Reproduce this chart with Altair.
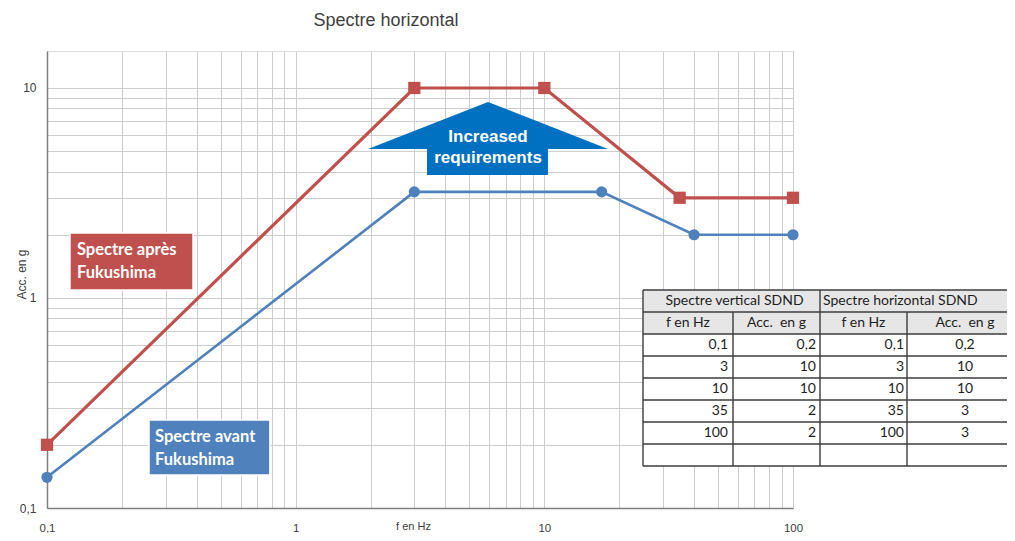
import altair as alt
import pandas as pd

# ---------------- data ----------------
f_apres = [0.1, 3, 10, 35, 100]
acc_apres = [0.2, 10, 10, 3, 3]
f_avant = [0.1, 3, 17, 40, 100]
acc_avant = [0.14, 3.2, 3.2, 2, 2]

x_ticks = [0.1, 0.2, 0.3, 0.4, 0.5, 0.6, 0.7, 0.8, 0.9,
           1, 2, 3, 4, 5, 6, 7, 8, 9,
           10, 20, 30, 40, 50, 60, 70, 80, 90, 100]
y_ticks = [0.1, 0.2, 0.3, 0.4, 0.5, 0.6, 0.7, 0.8, 0.9,
           1, 2, 3, 4, 5, 6, 7, 8, 9, 10]
x_labels = [0.1, 1, 10, 100]
y_labels = [0.1, 1, 10]

tab_f_vert = [0.1, 3, 10, 35, 100]
tab_acc_vert = [0.2, 10, 10, 2, 2]
tab_f_hor = [0.1, 3, 10, 35, 100]
tab_acc_hor = [0.2, 10, 10, 3, 3]
tab_group_headers = ["Spectre vertical SDND", "Spectre horizontal SDND"]
tab_col_headers = ["f en Hz", "Acc.\u00a0 en g", "f en Hz", "Acc.\u00a0 en g"]

# ---------------- styles ----------------
RED = "#C0504D"
BLUE = "#4F81BD"
ARROW = "#0070C0"
FONT = "Liberation Sans, Arial, sans-serif"
NARROW = "Liberation Sans Narrow, Liberation Sans, Arial, sans-serif"
BOXFONT = "Lato, Carlito, Calibri, sans-serif"

W, H = 746, 457

def fr(v):
    return f"{v:g}".replace(".", ",")

def lab_expr(vals):
    return ("indexof(" + str(vals) + ", datum.value) >= 0 ? "
            "replace(format(datum.value, '~g'), '.', ',') : ''")

xscale = alt.Scale(type="log", domain=[0.1, 100], nice=False, zero=False)
yscale = alt.Scale(type="log", domain=[0.1, 15], nice=False, zero=False)

xaxis = alt.Axis(values=x_ticks, labelExpr=lab_expr(x_labels), grid=True,
                 gridColor="#cdcdcd", gridWidth=1, ticks=False, tickSize=0,
                 domainColor="#7f7f7f", domainWidth=1.5,
                 labelFont=FONT, labelFontSize=11.5, labelColor="#404040",
                 labelPadding=14, labelFlush=False, labelOverlap=False,
                 title="f en Hz", titleX=366, titleY=18, titleFont=NARROW,
                 titleFontSize=11, titleFontWeight="normal", titleColor="#404040",
                 titleBaseline="middle", titleAlign="center")
yaxis = alt.Axis(values=y_ticks, labelExpr=lab_expr(y_labels), grid=True,
                 gridColor="#cdcdcd", gridWidth=1, ticks=False, tickSize=0,
                 domainColor="#7f7f7f", domainWidth=1.5,
                 labelFont=FONT, labelFontSize=12, labelColor="#404040",
                 labelPadding=11, labelFlush=False, labelOverlap=False,
                 title="Acc. en g", titleX=-26, titleY=223, titleAngle=270,
                 titleFont=NARROW, titleFontSize=12, titleFontWeight="normal",
                 titleColor="#404040", titleBaseline="middle", titleAlign="center")

def X(field="f"):
    return alt.X(f"{field}:Q", scale=xscale, axis=xaxis)

def Y(field="acc"):
    return alt.Y(f"{field}:Q", scale=yscale, axis=yaxis)

df_apres = pd.DataFrame({"f": f_apres, "acc": acc_apres})
df_avant = pd.DataFrame({"f": f_avant, "acc": acc_avant})

line_apres = alt.Chart(df_apres).mark_line(color=RED, strokeWidth=3.2).encode(x=X(), y=Y())
line_avant = alt.Chart(df_avant).mark_line(color=BLUE, strokeWidth=2.6).encode(x=X(), y=Y())
pts_apres = alt.Chart(df_apres).mark_point(shape="square", filled=True, size=150,
                                           color=RED, opacity=1).encode(x=X(), y=Y())
pts_avant = alt.Chart(df_avant).mark_circle(size=125, color=BLUE, opacity=1).encode(x=X(), y=Y())

# ---------------- annotations (anchored in data coordinates) ----------------
boxes = pd.DataFrame({
    "x0": [0.1237, 0.2572], "x1": [0.3865, 0.7876],
    "y0": [2.04, 0.2624], "y1": [1.092, 0.1437],
    "c": [RED, BLUE],
})
shadow = alt.Chart(boxes).mark_rect(color="#b0b0b0", opacity=0.45, xOffset=2.5, yOffset=2.5).encode(
    x=X("x0"), x2="x1", y=Y("y0"), y2="y1")
box = alt.Chart(boxes).mark_rect(stroke="white", strokeWidth=1.5).encode(
    x=X("x0"), x2="x1", y=Y("y0"), y2="y1", color=alt.Color("c:N", scale=None))

box_txt = pd.DataFrame({
    "x": [0.1319, 0.2719], "y": [1.693, 0.2178],
    "t": ["Spectre après\nFukushima", "Spectre avant\nFukushima"],
})
box_text = alt.Chart(box_txt).mark_text(align="left", baseline="middle", lineBreak="\n",
                                        lineHeight=23, font=BOXFONT, fontSize=16.5,
                                        fontWeight="bold", color="white").encode(
    x=X("x"), y=Y("y"), text="t:N")

# block arrow: triangular head (area) + stem (rect)
head = pd.DataFrame({"x": [1.954, 5.935, 18.03], "top": [5.123, 8.577, 5.123],
                     "base": [5.123, 5.123, 5.123]})
arrow_head = alt.Chart(head).mark_area(color=ARROW, opacity=1).encode(
    x=X("x"), y=Y("top"), y2="base")
stem = pd.DataFrame({"x0": [3.374], "x1": [10.34], "y0": [5.25], "y1": [3.852]})
arrow_stem = alt.Chart(stem).mark_rect(color=ARROW, opacity=1).encode(
    x=X("x0"), x2="x1", y=Y("y0"), y2="y1")
arrow_lbl = pd.DataFrame({"x": [5.935], "y": [5.86], "t": ["Increased\nrequirements"]})
arrow_text = alt.Chart(arrow_lbl).mark_text(align="center", baseline="middle", lineBreak="\n",
                                            lineHeight=21.5, font=FONT, fontSize=17,
                                            fontWeight="bold", color="white").encode(
    x=X("x"), y=Y("y"), text="t:N")

main = alt.layer(line_apres, line_avant, pts_apres, pts_avant,
                 shadow, box, box_text, arrow_head, arrow_stem, arrow_text)

# ---------------- table ----------------
COLS = [0, 90, 177, 264, 380]   # column edges (table units)
NROWS = 8
tx_scale = alt.Scale(domain=[0, 380], range=[596, 976])
ty_scale = alt.Scale(domain=[0, NROWS], range=[239, 415])

def TX(field):
    return alt.X(f"{field}:Q", scale=tx_scale, axis=None)

def TY(field):
    return alt.Y(f"{field}:Q", scale=ty_scale, axis=None)

bg = pd.DataFrame({"x0": [0, 0], "x1": [COLS[-1], COLS[-1]], "y0": [0, 2], "y1": [2, NROWS],
                   "c": ["#e6e6e6", "#ffffff"]})
tab_bg = alt.Chart(bg).mark_rect().encode(x=TX("x0"), x2="x1", y=TY("y0"), y2="y1",
                                          color=alt.Color("c:N", scale=None))
hr = pd.DataFrame({"x0": [0] * (NROWS + 1), "x1": [COLS[-1]] * (NROWS + 1),
                   "y": list(range(NROWS + 1))})
tab_h = alt.Chart(hr).mark_rule(color="#3c3c3c", strokeWidth=1.4).encode(
    x=TX("x0"), x2="x1", y=TY("y"))
vr = pd.DataFrame({"x": [COLS[0], COLS[1], COLS[2], COLS[3]], "y0": [0, 1, 0, 1],
                   "y1": [NROWS] * 4})
tab_v = alt.Chart(vr).mark_rule(color="#3c3c3c", strokeWidth=1.4).encode(
    x=TX("x"), y=TY("y0"), y2="y1")

cells = []
cells.append({"x": (COLS[0] + COLS[2]) / 2 + 3, "y": 0.5, "t": tab_group_headers[0], "a": "center"})
cells.append({"x": COLS[2] + 3, "y": 0.5, "t": tab_group_headers[1], "a": "left"})
for i, h in enumerate(tab_col_headers):
    cx = (COLS[i] + COLS[i + 1]) / 2 if i < 3 else 322
    cells.append({"x": cx, "y": 1.5, "t": h, "a": "center"})
for r in range(len(tab_f_vert)):
    y = 2.5 + r
    cells.append({"x": COLS[1] - 5, "y": y, "t": fr(tab_f_vert[r]), "a": "right"})
    cells.append({"x": COLS[2] - 4, "y": y, "t": fr(tab_acc_vert[r]), "a": "right"})
    cells.append({"x": COLS[3] - 3, "y": y, "t": fr(tab_f_hor[r]), "a": "right"})
    cells.append({"x": 322, "y": y, "t": fr(tab_acc_hor[r]), "a": "center"})
cells = pd.DataFrame(cells)

def cell_layer(a):
    return alt.Chart(cells).transform_filter(alt.datum.a == a).mark_text(
        align=a, baseline="middle", font=BOXFONT, fontSize=14, color="#1e1e1e").encode(
        x=TX("x"), y=TY("y"), text="t:N")

table = alt.layer(tab_bg, tab_h, tab_v, cell_layer("left"), cell_layer("center"),
                  cell_layer("right"))

chart = alt.layer(main, table).resolve_scale(x="independent", y="independent").properties(
    width=W, height=H,
    title=alt.TitleParams("Spectre horizontal", font=NARROW, fontSize=18, fontWeight="normal",
                          color="#404040", anchor="middle", dx=-34, offset=7,
                          baseline="alphabetic", frame="group"),
    autosize=alt.AutoSizeParams(type="none"),
    padding={"left": 39, "top": 43, "right": 214, "bottom": 25},
).configure_view(stroke="#b5b5b5", strokeWidth=1).configure(background="white")

chart.save("out.html", embed_options={"renderer": "svg", "actions": False})
